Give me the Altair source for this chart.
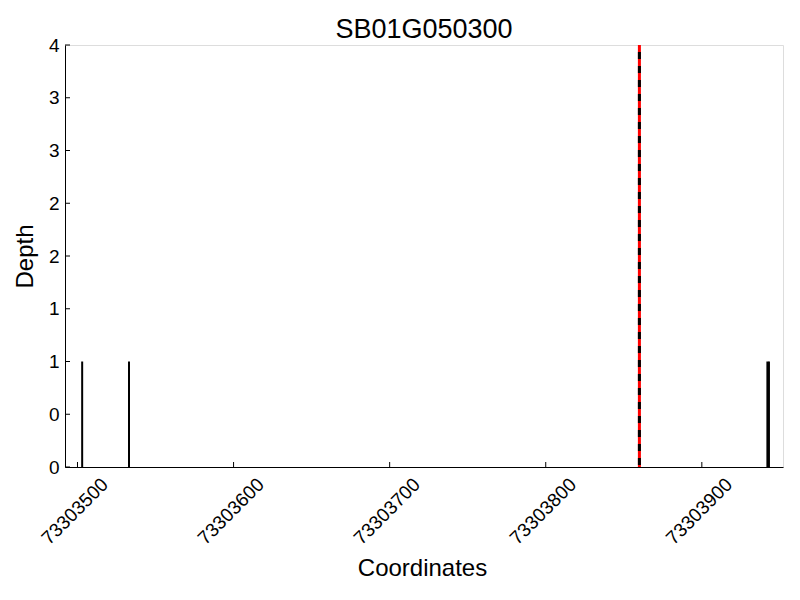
import altair as alt
import pandas as pd

title_text = "SB01G050300"
positions = [73303503, 73303533, 73303942, 73303943]
depths = [1, 1, 1, 1]
snp_pos = [73303860]
snp_top = [4]
x_ticks = [73303500, 73303600, 73303700, 73303800, 73303900]
y_ticks = [0, 0.5, 1, 1.5, 2, 2.5, 3, 3.5, 4]
x_domain = [73303492, 73303952]
y_domain = [0, 4]

W, H = 718, 422
FONT = "Liberation Sans"

bars_df = pd.DataFrame({"pos": positions, "depth": depths, "base": [0] * len(positions)})
snp_df = pd.DataFrame({"pos": snp_pos, "top": snp_top, "base": [0]})
xt_df = pd.DataFrame({"v": x_ticks})
yt_df = pd.DataFrame({"v": y_ticks})

xscale = alt.Scale(domain=x_domain, nice=False, zero=False)
yscale = alt.Scale(domain=y_domain, nice=False, zero=False)

xaxis = alt.Axis(
    values=x_ticks, title="Coordinates", grid=False, ticks=False,
    labelAngle=-45, labelAlign="center", labelBaseline="middle",
    labelPadding=44, labelOffset=-3, labelFontSize=19, labelFont=FONT, labelColor="black",
    titleFontSize=24, titleFont=FONT, titleFontWeight="normal", titleColor="black",
    titleX=357, titleY=101, titleBaseline="middle", titleAlign="center",
    domainColor="black", domainWidth=1, format="d", labelFlush=False, labelOverlap=False,
)
yaxis = alt.Axis(
    values=y_ticks, title="Depth", grid=False, ticks=False,
    labelExpr="floor(datum.value)", labelPadding=6, labelFontSize=19, labelFont=FONT,
    labelColor="black", labelFlush=False, labelOverlap=False,
    titleFontSize=24, titleFont=FONT, titleFontWeight="normal", titleColor="black",
    titleX=-40, titleY=211, titleAngle=-90, titleBaseline="middle", titleAlign="center",
    domainColor="black", domainWidth=1,
)

bars = alt.Chart(bars_df).mark_rule(color="black", strokeWidth=2).encode(
    x=alt.X("pos:Q", scale=xscale, axis=xaxis),
    y=alt.Y("depth:Q", scale=yscale, axis=yaxis),
    y2="base:Q",
)

snp_red = alt.Chart(snp_df).mark_rule(color="red", strokeWidth=3).encode(
    x="pos:Q", y="top:Q", y2="base:Q"
)
snp_black = alt.Chart(snp_df).mark_rule(
    color="black", strokeWidth=3, strokeDash=[7, 7], strokeDashOffset=7
).encode(x="pos:Q", y="top:Q", y2="base:Q")

xticks = alt.Chart(xt_df).mark_rule(color="black", strokeWidth=1).encode(
    x="v:Q", y=alt.value(H), y2=alt.value(H - 5)
)
yticks = alt.Chart(yt_df).mark_rule(color="black", strokeWidth=1).encode(
    y="v:Q", x=alt.value(0), x2=alt.value(5)
)

chart = alt.layer(bars, snp_red, snp_black, xticks, yticks).properties(
    width=W, height=H,
    title=alt.Title(title_text, fontSize=27, font=FONT, fontWeight="normal", color="black",
                    anchor="middle", offset=6, dy=14),
    autosize=alt.AutoSizeParams(type="none"),
    padding={"left": 57, "top": 37, "right": 9, "bottom": 125},
).configure_view(stroke=None).configure(background="white")

chart.save("out.html", embed_options={"renderer": "svg", "actions": False})
